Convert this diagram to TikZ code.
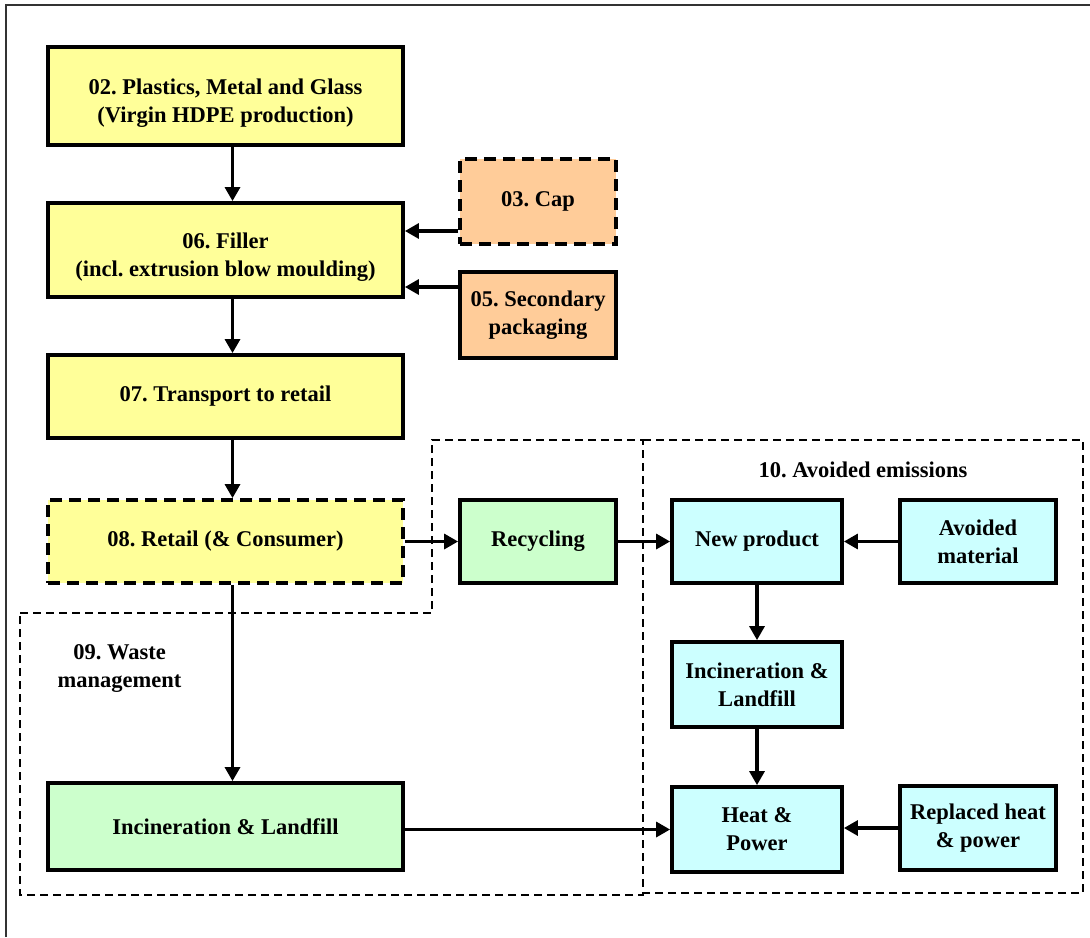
\documentclass[tikz,border=0pt]{standalone}
\usepackage{fontspec}
\setmainfont{Liberation Serif}
\usepackage{tikz}
\usetikzlibrary{arrows.meta,calc,positioning}
\frenchspacing

\definecolor{boxyellow}{HTML}{FFFF99}
\definecolor{boxorange}{HTML}{FFCC99}
\definecolor{boxgreen}{HTML}{CCFFCC}
\definecolor{boxcyan}{HTML}{CCFFFF}

% taller first line, pushes the text down a little
\newcommand{\droptext}{\rule{0pt}{15pt}}

\tikzset{
  box/.style={draw, line width=1.9pt, align=center, inner sep=0pt,
    font=\bfseries\fontsize{11.25}{14}\selectfont},
  widebox/.style={box, minimum width=177.5pt},
  smallbox/.style={box, minimum width=78pt},
  midbox/.style={box, minimum width=85pt},
  dashbox/.style={dash pattern=on 6pt off 3.5pt},
  flow/.style={line width=1.6pt, -{Triangle[length=7pt,width=7.5pt]}},
  region/.style={line width=0.9pt, dash pattern=on 4pt off 2.5pt},
  label/.style={align=center, font=\bfseries\fontsize{11.25}{14}\selectfont}
}

\begin{document}
\begin{tikzpicture}[x=0.5pt, y=-0.5pt]
\useasboundingbox (0,0) rectangle (1090,937);
% outer frame
\draw[line width=0.9pt, black!80] (6,937) -- (6,5) -- (1090,5);
% system boundaries
\draw[region] (20,613) -- (432,613) -- (432,440) -- (643,440) -- (643,895) -- (20,895) -- cycle;
\draw[region] (643,440) -- (1083,440) -- (1083,893) -- (643,893);
\node[label] (wastelbl) at (119.5,668) {09. Waste\\management};
\node[label] (avoidlbl) at (863,470) {10. Avoided emissions};
% production chain
\node[widebox, fill=boxyellow, minimum height=49pt] (plastics) at (225.5,96) {\droptext 02. Plastics, Metal and Glass\\(Virgin HDPE production)};
\node[widebox, fill=boxyellow, minimum height=47pt] (filler) at (225.5,250) {\droptext 06. Filler\\(incl. extrusion blow moulding)};
\node[smallbox, dashbox, fill=boxorange, minimum height=42.5pt] (cap) at (538,201.5) {03. Cap};
\node[smallbox, fill=boxorange, minimum height=43pt] (secondary) at (538,315) {05. Secondary\\packaging};
\node[widebox, fill=boxyellow, minimum height=41.5pt] (transport) at (225.5,396.5) {07. Transport to retail};
\node[widebox, dashbox, fill=boxyellow, minimum height=41.5pt] (retail) at (225.5,541.5) {08. Retail (\& Consumer)};
% end of life
\node[smallbox, fill=boxgreen, minimum height=41.5pt] (recycling) at (538,541.5) {Recycling};
\node[widebox, fill=boxgreen, minimum height=43.5pt] (incland) at (225.5,826.5) {Incineration \& Landfill};
% avoided emissions
\node[midbox, fill=boxcyan, minimum height=41.5pt] (newproduct) at (757,541.5) {New product};
\node[smallbox, fill=boxcyan, minimum height=41.5pt] (avoided) at (978,541.5) {Avoided\\material};
\node[midbox, fill=boxcyan, minimum height=42.5pt] (incavoid) at (757,684.5) {Incineration \&\\Landfill};
\node[midbox, fill=boxcyan, minimum height=42.5pt] (heatpower) at (757,829.5) {Heat \&\\Power};
\node[smallbox, fill=boxcyan, minimum height=42pt] (replaced) at (978,828) {Replaced heat\\\& power};
% flows
\draw[flow] ([xshift=3.5pt]plastics.south) -- ([xshift=3.5pt]filler.north);
\draw[flow] ([yshift=-14.75pt]cap.west) -- ([yshift=-14.75pt]cap.west -| filler.east);
\draw[flow] ([yshift=14pt]secondary.west) -- ([yshift=14pt]secondary.west -| filler.east);
\draw[flow] ([xshift=3.5pt]filler.south) -- ([xshift=3.5pt]transport.north);
\draw[flow] ([xshift=3.5pt]transport.south) -- ([xshift=3.5pt]retail.north);
\draw[flow] (retail.east) -- (recycling.west);
\draw[flow] (recycling.east) -- (newproduct.west);
\draw[flow] (avoided.west) -- (newproduct.east);
\draw[flow] ([xshift=3.5pt]retail.south) -- ([xshift=3.5pt]incland.north);
\draw[flow] (newproduct.south) -- (incavoid.north);
\draw[flow] (incavoid.south) -- (heatpower.north);
\draw[flow] (incland.east |- heatpower.west) -- (heatpower.west);
\draw[flow] (replaced.west) -- (replaced.west -| heatpower.east);
\end{tikzpicture}
\end{document}
